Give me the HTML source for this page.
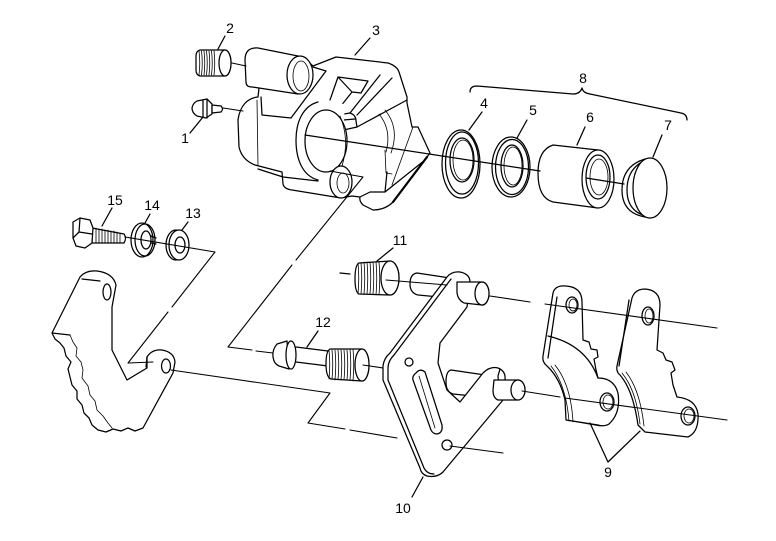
<!DOCTYPE html>
<html><head><meta charset="utf-8">
<style>
html,body{margin:0;padding:0;background:#fff;}
svg{display:block;}
text{font-family:"Liberation Sans",Arial,sans-serif;font-size:14px;fill:#000;stroke:none;}
.p{fill:#fff;}
.t{stroke-width:0.8;}
</style></head><body>
<svg width="776" height="541" viewBox="0 0 776 541" xmlns="http://www.w3.org/2000/svg">
<g fill="none" stroke="#000" stroke-width="1.25" stroke-linejoin="round" stroke-linecap="round">

<path d="M340,273 L350,274"/>

<!-- ===== Plug 2 ===== -->
<path class="p" d="M200,50 L225,50 A6,13 0 0 1 225,76 L200,76 Q196,75 196,70 L196,56 Q196,51 200,50 Z"/>
<ellipse cx="225" cy="63" rx="6" ry="13" class="p"/>
<path class="t" d="M199,51 Q200.5,63 199,75 M201.5,51 Q203,63 201.5,75 M204,51 Q205.5,63 204,75 M206.5,51 Q208,63 206.5,75 M209,51 Q210.5,63 209,75 M211.5,51 Q213,63 211.5,75 M214,51 Q215.5,63 214,75"/>

<!-- ===== Bleeder 1 ===== -->
<path class="p" d="M197,101 L207,99 L212,104 L212,114 L206,118 L197,116 Q192,113 192,108 Q193,103 197,101 Z"/>
<path d="M203,100 L203,117 M207,99 L207,118"/>
<path class="p" d="M212,105 L221,106 Q224,109 221,112 L212,113 Z"/>

<!-- ===== Caliper 3 ===== -->
<path class="p" d="M258,48 L303,57 L313,66 L336,57 L388,63 Q397,66 399,72 L407,97 L407,103 L412,127 L418,127 L430,153 L427,157 L393,202 Q385,210 373,210 L363,205 Q359,201 360,197 L352,196 L341,198 L292,190 Q284,189 283,184 L282,172 L255,165 Q242,160 239,147 L238,120 C240,105 248,98 258,97 L259,88 L252,87 Q246,87 246,82 L245,60 Q245,47 258,48 Z"/>
<ellipse cx="300" cy="75" rx="13" ry="19" class="p"/>
<ellipse cx="301" cy="76" rx="8" ry="15" class="t"/>
<path d="M259,88 L298,94"/>
<path d="M261,97 L262,115 L291,118 L326,71 M313,67 L326,71"/>
<path d="M338,77 L368,81 L361,93 L352,92 Z M338,77 L330,100 M352,92 L333,116"/>
<path class="p" d="M332,116 L350,113 Q356,115 356,121 L357,127 L339,131 Q333,130 332,125 Z"/>
<path d="M332,121 L355,119 M357,127 L407,100 M350,113 L380,75 M357,115 L392,78"/>
<path class="t" d="M385,110 Q400,128 391,153 M379,114 Q392,130 386,152"/>
<path class="t" d="M385,150 L386,173 L392,174"/>
<path d="M360,197 L370,192 L385,192 M385,192 L387,172 M385,192 L425,160"/>
<path d="M427,157 L393,202" stroke-width="2.2"/>
<path class="t" d="M413,127 L392,185"/>
<path class="t" d="M257,100 L258,166"/>
<path d="M258,169 L283,177 M283,177 L318,181"/>
<path class="p" d="M318,102 C303,106 296,122 296,140 C296,160 303,176 318,180 L340,180 L345,104 Z" stroke="none"/>
<path d="M318,102 C303,106 296,122 296,140 C296,160 303,176 318,180"/>
<ellipse cx="326" cy="141" rx="21" ry="31" class="p"/>
<path class="t" d="M340,116 Q350,140 342,166"/>
<ellipse cx="341" cy="182" rx="11" ry="16" class="p"/>
<ellipse cx="343" cy="183" rx="6" ry="10" class="t"/>

<!-- ===== Bracket 8 ===== -->
<path d="M470,92 Q470,86 477,86 L573,94 Q580,94 582,88 Q583,93 590,94 L681,113 Q687,114 687,120"/>

<!-- ===== Ring 4 ===== -->
<ellipse cx="461" cy="164" rx="19" ry="34" class="p"/>
<ellipse cx="462" cy="163" rx="16.5" ry="31"/>
<ellipse cx="462" cy="160" rx="12" ry="22"/>
<ellipse cx="463" cy="160" rx="10" ry="20" class="t"/>

<!-- ===== Ring 5 ===== -->
<ellipse cx="511" cy="167" rx="19" ry="30" class="p"/>
<ellipse cx="512" cy="167" rx="16.5" ry="27.5"/>
<ellipse cx="512" cy="166" rx="11" ry="21"/>
<ellipse cx="513" cy="166" rx="9" ry="19" class="t"/>

<!-- ===== Piston 6 ===== -->
<path class="p" d="M553,145 L598,150 L598,208 L553,202 Q538,198 538,173 Q538,150 553,145 Z"/>
<ellipse cx="598" cy="179" rx="16" ry="29" class="p"/>
<ellipse cx="598" cy="177" rx="12" ry="22"/>
<ellipse cx="599" cy="177" rx="9" ry="18" class="t"/>

<!-- ===== Cap 7 ===== -->
<path class="p" d="M645,159 Q622,166 622,190 Q622,213 645,217 Z"/>
<path d="M646,160 Q627,168 627,190 Q627,211 646,216"/>
<ellipse cx="650" cy="188" rx="17" ry="30" class="p"/>

<path d="M305,135 L540,171 M586,178 L624,184"/>

<!-- ===== Left leaf bracket ===== -->
<path class="p" d="M80,277 Q86,270 97,271 Q113,273 116,285 L112,307 L112,350 L127,380 L147,368 L147,357 Q152,349 162,350 Q174,352 175,362 L173,373 L143,428 L135,431 L128,428 L121,431 L113,429 L106,432 L98,430 L92,425 L89,418 L84,413 L82,405 L77,399 L77,391 L72,385 L70,377 L68,369 L71,362 L66,356 L64,348 L60,343 L55,339 L52,333 Z"/>
<path d="M82,279 L100,281 M52,333 L70,335"/>
<path class="t" d="M70,335 L73,342 L77,348 L76,356 L81,362 L83,370 L82,378 L88,386 L90,395 L95,401 L97,410 L103,416 L108,423 L112,428"/>
<path d="M147,357 L146,367"/>
<ellipse cx="107" cy="292" rx="4" ry="8"/>
<ellipse cx="166" cy="366" rx="4.5" ry="7"/>

<!-- ===== Bolt 15 ===== -->
<path class="p" d="M92,228 L124,234 Q127,238 124,243 L92,243 Z"/>
<path class="t" d="M96,228 L96,243 M99,229 L99,243 M102,229 L102,243 M105,230 L105,243 M108,230 L108,243 M111,231 L111,243 M114,231 L114,243 M117,232 L117,243 M120,233 L120,243"/>
<path class="p" d="M73,222 L80,218 L90,220 L93,228 L92,243 L85,248 L76,246 L73,238 Z"/>
<path d="M80,218 L79,232 L73,238 M79,232 L92,234"/>

<!-- ===== Washer 14 ===== -->
<ellipse cx="142" cy="240" rx="11" ry="17" class="p"/>
<ellipse cx="145" cy="240" rx="10" ry="16"/>
<ellipse cx="146" cy="240" rx="5" ry="9"/>
<path d="M151,236 L156,238 M151,243 L156,244"/>

<!-- ===== Washer 13 ===== -->
<ellipse cx="176" cy="245" rx="10" ry="15" class="p"/>
<ellipse cx="179" cy="245" rx="10" ry="15" class="p"/>
<ellipse cx="180" cy="245" rx="5" ry="8"/>

<!-- ===== Bolt 11 ===== -->
<path class="p" d="M359,263 L390,261 A9,17 0 0 1 390,295 L359,294 Q355,292 355,279 Q355,265 359,263 Z"/>
<path class="t" d="M358,263 Q359.5,278 358,294 M361,263 Q362.5,278 361,294 M364,262 Q365.5,278 364,294 M367,262 Q368.5,278 367,294 M370,262 Q371.5,278 370,294 M373,262 Q374.5,278 373,294 M376,262 Q377.5,278 376,295 M379,262 Q380.5,278 379,295"/>
<ellipse cx="390" cy="278" rx="9" ry="17" class="p"/>

<!-- ===== Pins behind bracket 10 ===== -->
<path class="p" d="M417,273 L450,278 L450,298 L418,295 Q410,293 410,284 Q410,274 417,273 Z"/>
<path class="p" d="M451,370 L492,376 L492,398 L453,394 Q446,392 446,382 Q446,371 451,370 Z"/>

<!-- ===== Bracket 10 ===== -->
<path class="p" d="M447,277 Q452,271 460,272 Q470,274 470,282 L467,307 L440,343 L438,363 L447,390 L460,402 L483,373 Q490,366 498,368 Q506,371 505,380 L503,400 L443,472 Q437,478 427,476 Q421,474 420,468 L383,380 L383,366 Q384,358 390,353 L447,277 Z"/>
<path d="M451,279 L394,355 Q388,361 388,368 L388,380 L424,468 Q427,474 434,474"/>
<path d="M500,369 L498,376 L500,398"/>
<path class="p" d="M416,373 Q420,368 425,372 L442,425 Q443,433 437,434 Q433,434 431,430 L413,380 Q412,376 416,373 Z"/>
<path class="t" d="M419,376 L435,428"/>
<circle cx="409" cy="362" r="4"/>
<circle cx="447" cy="445" r="5"/>

<!-- ===== Pins in front of bracket 10 ===== -->
<path class="p" d="M457,282 L482,282 A7,11.5 0 0 1 482,305 L464,303 Q458,300 457,293 Z"/>
<ellipse cx="482" cy="293.5" rx="7" ry="11.5" class="p"/>
<path class="p" d="M494,380 L518,380 A7,10 0 0 1 518,400 L498,400 Q493,398 493,390 Z"/>
<ellipse cx="518" cy="390" rx="7" ry="10" class="p"/>

<!-- ===== Bolt 12 ===== -->
<path d="M296,347 L328,351 M296,362 L328,366"/>
<path class="p" d="M287,341 L277,344 Q272,350 273,357 Q274,364 279,366 L289,369 Z"/>
<ellipse cx="291" cy="355" rx="5" ry="14" class="p"/>
<path class="p" d="M330,349 L362,349 A7,16 0 0 1 362,381 L331,379 Q326,377 326,364 Q326,351 330,349 Z"/>
<path class="t" d="M329,350 Q330.5,364 329,379 M332,350 Q333.5,364 332,379 M335,350 Q336.5,364 335,380 M338,350 Q339.5,364 338,380 M341,350 Q342.5,364 341,380 M344,350 Q345.5,364 344,380 M347,350 Q348.5,364 347,380 M350,349 Q351.5,364 350,380 M353,349 Q354.5,364 353,381"/>
<ellipse cx="362" cy="365" rx="7" ry="16" class="p"/>

<!-- ===== Pads 9 ===== -->
<path class="p" d="M553,293 Q555,285 566,286 Q582,287 582,302 L583,340 L589,342 L591,349 L597,350 L598,357 L594,359 L596,370 L598,378 Q614,378 618,393 Q621,413 609,424 Q604,427 598,425 L566,420 L565,400 Q560,378 547,366 Q542,362 543,356 Z"/>
<path d="M557,297 L548,358 M548,336 Q586,345 598,378"/>
<path class="t" d="M551,366 Q566,385 569,421 M555,365 Q571,385 573,422 M566,420 L600,426"/>
<ellipse cx="572" cy="305" rx="6" ry="8"/>
<ellipse cx="573" cy="305" rx="4" ry="6" class="t"/>
<ellipse cx="607" cy="402" rx="7" ry="9"/>
<ellipse cx="608" cy="402" rx="5" ry="7" class="t"/>

<path class="p" d="M632,298 Q635,289 645,289 Q660,290 660,305 L657,350 L663,353 L666,360 L672,362 L675,370 L671,373 L673,385 L677,397 Q696,399 698,414 Q699,432 688,437 L645,432 L638,425 Q633,390 620,375 Q616,372 617,366 Z"/>
<path d="M629,300 L619,366"/>
<path class="t" d="M622,373 Q636,390 640,424 M626,372 Q640,390 644,426"/>
<ellipse cx="648" cy="316" rx="6" ry="9"/>
<ellipse cx="649" cy="316" rx="4" ry="7" class="t"/>
<ellipse cx="688" cy="416" rx="7" ry="9"/>
<ellipse cx="689" cy="416" rx="5" ry="7" class="t"/>

<!-- ===== Axis / connector lines on top ===== -->
<g stroke-width="1.1">
<path d="M232,63 L246,66"/>
<path d="M223,108 L243,111"/>
<path d="M330,171 L363,177 L296,260 M292,265 L228,347 L252,350 M256,351 L273,353"/>
<path d="M125,237 L215,252 L172,307 M168,312 L128,363 L153,362"/>
<path d="M171,370 L330,393 L308,423 L345,429 M350,430 L397,438"/>
<path d="M450,446 L503,453"/>
<path d="M386,280 L447,285"/>
<path d="M490,296 L530,302 M545,304 L717,328"/>
<path d="M363,365 L383,368"/>
<path d="M522,391 L560,397 M565,398 L727,420"/>
</g>

<!-- ===== Leaders ===== -->
<path d="M190,133 L203,117"/>
<path d="M225,36 L218,49"/>
<path d="M370,38 L355,55"/>
<path d="M482,112 L469,130"/>
<path d="M527,120 L517,138"/>
<path d="M585,127 L577,145"/>
<path d="M662,135 L653,157"/>
<path d="M608,462 L590,423 M608,462 L640,431"/>
<path d="M412,497 L423,477"/>
<path d="M393,248 L377,261"/>
<path d="M318,331 L307,347"/>
<path d="M188,222 L182,230"/>
<path d="M150,214 L145,223"/>
<path d="M112,208 L102,226"/>
</g>

<!-- ===== Labels ===== -->
<g text-anchor="middle">
<text x="185" y="143">1</text>
<text x="230" y="33">2</text>
<text x="376" y="35">3</text>
<text x="484" y="108">4</text>
<text x="533" y="115">5</text>
<text x="590" y="122">6</text>
<text x="668" y="130">7</text>
<text x="583" y="83">8</text>
<text x="608" y="477">9</text>
<text x="403" y="513">10</text>
<text x="400" y="245">11</text>
<text x="323" y="327">12</text>
<text x="193" y="218">13</text>
<text x="152" y="210">14</text>
<text x="115" y="205">15</text>
</g>
</svg>
</body></html>
